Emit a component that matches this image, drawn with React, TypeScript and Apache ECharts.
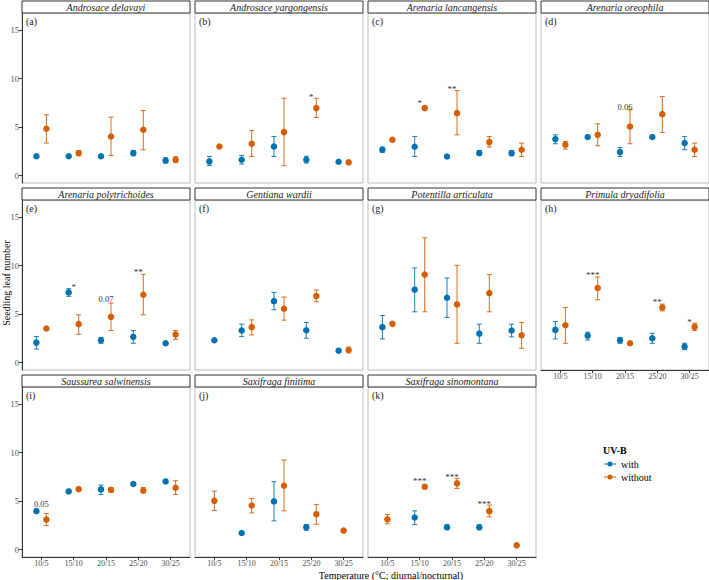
import React, { useEffect, useRef } from "react";
import * as echarts from "echarts";

const FONT = "Liberation Serif, Times New Roman, serif";
const BLUE = "#0072B2";
const ORANGE = "#D55E00";

const categories = ["10/5", "15/10", "20/15", "25/20", "30/25"];
const yTicks = [0, 5, 10, 15];
const panelTitles = [
  "Androsace delavayi", "Androsace yargongensis", "Arenaria lancangensis", "Arenaria oreophila",
  "Arenaria polytrichoides", "Gentiana wardii", "Potentilla articulata", "Primula dryadifolia",
  "Saussurea salwinensis", "Saxifraga finitima", "Saxifraga sinomontana",
];
const panelLetters = ["(a)", "(b)", "(c)", "(d)", "(e)", "(f)", "(g)", "(h)", "(i)", "(j)", "(k)"];

// [mean, lower, upper] per temperature; null = no data
const aWith = [[2.0, 1.9, 2.1], [2.0, 1.9, 2.1], [2.0, 1.9, 2.1], [2.33, 2.05, 2.6], [1.57, 1.3, 1.85]];
const aWithout = [[4.83, 3.36, 6.27], [2.33, 2.05, 2.6], [4.04, 2.09, 6.03], [4.73, 2.67, 6.71], [1.64, 1.35, 1.95]];
const bWith = [[1.47, 1.06, 1.98], [1.64, 1.2, 2.09], [3.01, 1.98, 4.04], [1.64, 1.3, 2.0], [1.44, 1.35, 1.53]];
const bWithout = [[3.01, 2.95, 3.07], [3.29, 1.98, 4.66], [4.49, 1.03, 7.98], [6.96, 5.99, 7.98], [1.37, 1.3, 1.44]];
const cWith = [[2.67, 2.4, 2.95], [2.98, 1.98, 4.04], [1.98, 1.9, 2.06], [2.33, 2.1, 2.6], [2.33, 2.05, 2.6]];
const cWithout = [[3.7, 3.64, 3.76], [6.96, 6.76, 7.16], [6.44, 4.21, 8.77], [3.46, 2.95, 4.04], [2.67, 1.98, 3.36]];
const dWith = [[3.77, 3.29, 4.21], [3.98, 3.92, 4.04], [2.43, 1.98, 2.91], [3.98, 3.92, 4.04], [3.36, 2.67, 4.04]];
const dWithout = [[3.19, 2.74, 3.53], [4.21, 3.08, 5.34], [5.07, 3.29, 6.78], [6.34, 4.45, 8.15], [2.67, 1.98, 3.36]];
const eWith = [[2.07, 1.41, 2.69], [7.24, 6.83, 7.62], [2.31, 2.0, 2.6], [2.66, 2.0, 3.31], [2.0, 1.94, 2.06]];
const eWithout = [[3.52, 3.46, 3.58], [3.97, 2.93, 4.93], [4.72, 3.31, 6.14], [7.0, 4.93, 9.1], [2.9, 2.41, 3.31]];
const fWith = [[2.31, 2.25, 2.37], [3.31, 2.69, 3.97], [6.34, 5.45, 7.24], [3.34, 2.52, 4.14], [1.24, 1.18, 1.3]];
const fWithout = [null, [3.66, 2.86, 4.41], [5.55, 4.38, 6.76], [6.86, 6.28, 7.48], [1.31, 1.0, 1.6]];
const gWith = [[3.66, 2.45, 4.86], [7.52, 5.24, 9.76], [6.69, 4.66, 8.72], [3.0, 2.0, 3.97], [3.31, 2.66, 3.97]];
const gWithout = [[4.0, 3.94, 4.06], [9.07, 5.24, 12.86], [6.0, 2.0, 10.03], [7.17, 5.24, 9.07], [2.83, 1.48, 4.14]];
const hWith = [[3.38, 2.45, 4.24], [2.79, 2.34, 3.14], [2.31, 2.0, 2.6], [2.52, 2.0, 3.03], [1.66, 1.35, 2.0]];
const hWithout = [[3.86, 2.0, 5.69], [7.69, 6.48, 8.83], [2.0, 1.94, 2.06], [5.69, 5.34, 6.03], [3.69, 3.31, 4.07]];
const iWith = [[3.97, 3.91, 4.03], [6.0, 5.9, 6.1], [6.21, 5.69, 6.66], [6.76, 6.66, 6.86], [7.03, 6.9, 7.16]];
const iWithout = [[3.1, 2.48, 3.72], [6.24, 6.1, 6.38], [6.17, 5.9, 6.4], [6.1, 5.85, 6.4], [6.38, 5.69, 7.1]];
const jWith = [null, [1.72, 1.62, 1.82], [4.97, 2.97, 7.0], [2.31, 2.0, 2.6], null];
const jWithout = [[5.03, 4.03, 6.03], [4.55, 3.79, 5.28], [6.59, 4.0, 9.24], [3.66, 2.62, 4.66], [1.97, 1.9, 2.04]];
const kWith = [null, [3.31, 2.59, 4.0], [2.31, 2.06, 2.56], [2.31, 2.06, 2.56], null];
const kWithout = [[3.14, 2.66, 3.62], [6.48, 6.28, 6.68], [6.83, 6.31, 7.34], [3.97, 3.38, 4.59], [0.45, 0.4, 0.5]];

// significance labels: [temperature index, y position, label]
const bSig = [[3, 8.25, "*"]];
const cSig = [[1, 7.57, "*"], [2, 9.07, "**"]];
const dSig = [[2, 7.06, "0.06"]];
const eSig = [[1, 7.86, "*"], [2, 6.59, "0.07"], [3, 9.41, "**"]];
const hSig = [[1, 9.14, "***"], [3, 6.38, "**"], [4, 4.31, "*"]];
const iSig = [[0, 4.69, "0.05"]];
const kSig = [[1, 7.17, "***"], [2, 7.59, "***"], [3, 4.86, "***"]];

const withSets = [aWith, bWith, cWith, dWith, eWith, fWith, gWith, hWith, iWith, jWith, kWith];
const withoutSets = [aWithout, bWithout, cWithout, dWithout, eWithout, fWithout, gWithout, hWithout, iWithout, jWithout, kWithout];
const sigSets = [[], bSig, cSig, dSig, eSig, [], [], hSig, iSig, [], kSig];

const COL_LEFT = [22, 195, 368, 541];
const ROW_TOP = [13, 200, 387];
const PW = 168;
const PH = 170;
const STRIP = 12;
const DODGE = 0.155;
const X_LABEL_PANELS = [7, 8, 9, 10];

function buildOption() {
  const grid: any[] = [];
  const xAxis: any[] = [];
  const yAxis: any[] = [];
  const series: any[] = [];
  const graphic: any[] = [];

  panelTitles.forEach((title, i) => {
    const row = Math.floor(i / 4);
    const col = i % 4;
    const left = COL_LEFT[col];
    const top = ROW_TOP[row];
    const hasX = X_LABEL_PANELS.includes(i);
    const hasY = col === 0;
    grid.push({ left, top, width: PW, height: PH, show: true, borderColor: "#bdbdbd", borderWidth: 1, backgroundColor: "#fff" });
    xAxis.push({
      type: "value", gridIndex: i, min: 0.4, max: 5.6,
      splitLine: { show: false },
      axisLine: { show: hasX, onZero: false, lineStyle: { color: "#333", width: 1 } },
      axisTick: { show: hasX, customValues: [1, 2, 3, 4, 5], length: 3, lineStyle: { color: "#333" } },
      axisLabel: {
        show: hasX, customValues: [1, 2, 3, 4, 5], margin: 2,
        formatter: (v: number) => categories[Math.round(v) - 1] ?? "",
        fontFamily: FONT, fontSize: 8, color: "#4d4d4d",
      },
    });
    yAxis.push({
      type: "value", gridIndex: i, min: -0.75, max: 16.75,
      splitLine: { show: false },
      axisLine: { show: hasY, onZero: false, lineStyle: { color: "#333", width: 1 } },
      axisTick: { show: hasY, customValues: yTicks, length: 3, lineStyle: { color: "#333" } },
      axisLabel: { show: hasY, customValues: yTicks, margin: 3, fontFamily: FONT, fontSize: 8.5, color: "#4d4d4d" },
    });

    const w = withSets[i];
    const wo = withoutSets[i];
    const withPts: any[] = [];
    const withoutPts: any[] = [];
    const errs: any[] = [];
    categories.forEach((_, k) => {
      const a = w[k];
      const b = wo[k];
      const both = a && b;
      if (a) {
        const x = both ? k + 1 - DODGE : k + 1;
        withPts.push([x, a[0]]);
        errs.push([x, a[1], a[2], 0]);
      }
      if (b) {
        const x = both ? k + 1 + DODGE : k + 1;
        withoutPts.push([x, b[0]]);
        errs.push([x, b[1], b[2], 1]);
      }
    });
    series.push({
      type: "custom", name: "err" + i, xAxisIndex: i, yAxisIndex: i, data: errs, z: 2,
      encode: { x: 0, y: [1, 2] },
      renderItem: (params: any, api: any) => {
        const x = api.value(0);
        const lo = api.coord([x, api.value(1)]);
        const hi = api.coord([x, api.value(2)]);
        const color = api.value(3) === 0 ? BLUE : ORANGE;
        const cw = 2.5;
        const st = { stroke: color, lineWidth: 1, opacity: 0.9 };
        return {
          type: "group",
          children: [
            { type: "line", shape: { x1: lo[0], y1: lo[1], x2: hi[0], y2: hi[1] }, style: st },
            { type: "line", shape: { x1: lo[0] - cw, y1: lo[1], x2: lo[0] + cw, y2: lo[1] }, style: st },
            { type: "line", shape: { x1: hi[0] - cw, y1: hi[1], x2: hi[0] + cw, y2: hi[1] }, style: st },
          ],
        };
      },
    });
    series.push({
      type: "scatter", name: "with", xAxisIndex: i, yAxisIndex: i, data: withPts, symbolSize: 6.5, z: 3,
      itemStyle: { color: BLUE, opacity: 1 },
    });
    series.push({
      type: "scatter", name: "without", xAxisIndex: i, yAxisIndex: i, data: withoutPts, symbolSize: 6.5, z: 3,
      itemStyle: { color: ORANGE, opacity: 1 },
    });
    const sig = sigSets[i];
    if (sig.length) {
      series.push({
        type: "custom", name: "sig" + i, xAxisIndex: i, yAxisIndex: i, z: 4,
        data: sig.map((s: any) => [s[0] + 1, s[1]]),
        renderItem: (params: any, api: any) => {
          const p = api.coord([api.value(0), api.value(1)]);
          const label = (sig[params.dataIndex] as any)[2];
          const star = label.includes("*");
          return {
            type: "text", x: p[0], y: p[1] + (star ? 1 : 0),
            style: { text: label, fontFamily: FONT, fontSize: star ? 9 : 8.5, fill: "#333", align: "center", verticalAlign: "middle" },
          };
        },
      });
    }

    graphic.push({
      type: "rect", shape: { x: left, y: top - STRIP, width: PW, height: STRIP },
      style: { fill: "#fff", stroke: "#333", lineWidth: 1 },
    });
    graphic.push({
      type: "text", x: left + PW / 2, y: top - STRIP / 2 + 0.5,
      style: { text: title, fontFamily: FONT, fontStyle: "italic", fontSize: 10, fill: "#1a1a1a", align: "center", verticalAlign: "middle" },
    });
    graphic.push({
      type: "text", x: left + 4, y: top + 8,
      style: { text: panelLetters[i], fontFamily: FONT, fontSize: 10, fill: "#1a1a1a", align: "left", verticalAlign: "middle" },
    });
  });

  graphic.push({
    type: "text", x: 391, y: 575,
    style: { text: "Temperature (°C; diurnal/nocturnal)", fontFamily: FONT, fontSize: 10, fill: "#000", align: "center", verticalAlign: "middle" },
  });
  graphic.push({
    type: "text", x: 6, y: 283, rotation: Math.PI / 2,
    style: { text: "Seedling leaf number", fontFamily: FONT, fontSize: 10, fill: "#000", align: "center", verticalAlign: "middle" },
  });
  graphic.push({
    type: "text", x: 603, y: 450,
    style: { text: "UV-B", fontFamily: FONT, fontWeight: "bold", fontSize: 10, fill: "#000", align: "left", verticalAlign: "middle" },
  });

  return {
    animation: false,
    backgroundColor: "#fff",
    grid, xAxis, yAxis, series, graphic,
    legend: {
      data: ["with", "without"], orient: "vertical", left: 602, top: 456,
      itemWidth: 12, itemHeight: 7, itemGap: 1, padding: 2,
      icon: "path://M0,3.1H12V3.9H0Z M8.5,3.5A2.5,2.5 0 1 1 3.5,3.5A2.5,2.5 0 1 1 8.5,3.5Z",
      textStyle: { fontFamily: FONT, fontSize: 10, color: "#000", lineHeight: 12 },
      selectedMode: false,
    },
  };
}

export default function App() {
  const ref = useRef<HTMLDivElement>(null);
  useEffect(() => {
    if (!ref.current) return;
    const chart = echarts.init(ref.current, undefined, { renderer: "svg" });
    chart.setOption(buildOption() as any);
    return () => chart.dispose();
  }, []);
  return <div ref={ref} style={{ position: "absolute", left: 0, top: 0, width: 709, height: 580 }} />;
}
